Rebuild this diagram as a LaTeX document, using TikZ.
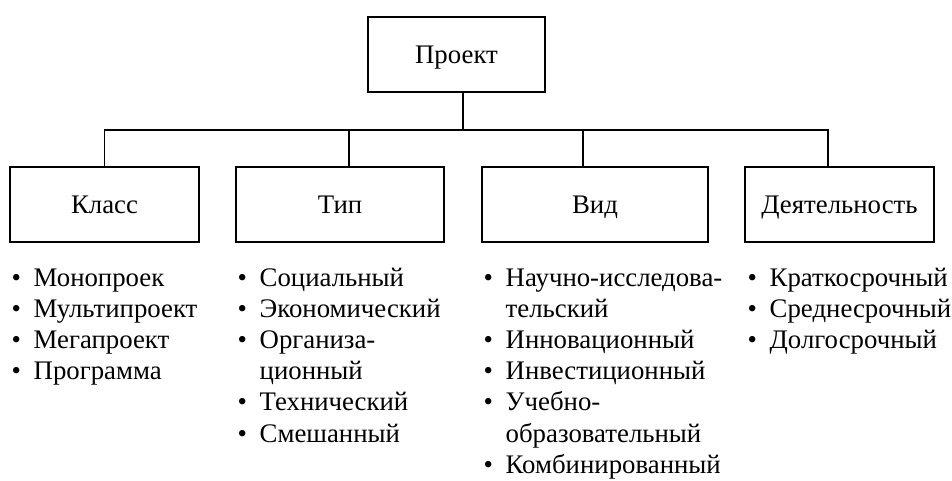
\documentclass[tikz,border=0pt]{standalone}
\usepackage{fontspec}
\setmainfont{Liberation Serif}
\usepackage{tikz}
\tikzset{
	box/.style={draw, line width=1.4pt, inner sep=0pt, minimum height=75pt, text height=19pt, text depth=2pt},
	itm/.style={anchor=base west, inner sep=0pt},
}
\def\bul{\makebox[22pt][l]{•}}
\def\cnt{\hspace*{22pt}}

\begin{document}
\begin{tikzpicture}[x=1pt, y=-1pt, font=\fontsize{26.8}{31}\selectfont, line width=1.4pt]
		%%%%% START %%%%%
		
		\useasboundingbox (0, 0) rectangle (952, 480);
		
		\node[box, minimum width=177pt] (proekt) at (456.5, 54.5) {Проект};
		
		\node[box, minimum width=189pt] (klass) at (104.5, 204.5) {Класс};
		\node[box, minimum width=208pt] (tip) at (340, 204.5) {Тип};
		\node[box, minimum width=226pt] (vid) at (595, 204.5) {Вид};
		\node[box, minimum width=189pt] (dejat) at (839.5, 204.5) {Деятельность};
		
		\coordinate (hub) at (463, 130);
		\draw ([xshift=6.5pt]proekt.south) -- (hub);
		\draw (klass.north) |- (hub) -| ([xshift=-11.5pt]dejat.north);
		\draw ([xshift=9pt]tip.north) -- ([xshift=9pt]tip.north |- hub);
		\draw ([xshift=-12pt]vid.north) -- ([xshift=-12pt]vid.north |- hub);
		
		\foreach \txt [count=\n from 0] in {\bul Монопроек, \bul Мультипроект, \bul Мегапроект, \bul Программа}
			\node[itm] (kl\n) at (11, {286+31.2*\n}) {\txt};
		
		\foreach \txt [count=\n from 0] in {\bul Социальный, \bul Экономический, \bul Организа-, \cnt ционный, \bul Технический, \bul Смешанный}
			\node[itm] (tp\n) at (237, {286+31.2*\n}) {\txt};
		
		\foreach \txt [count=\n from 0] in {\bul Научно-исследова-, \cnt тельский, \bul Инновационный, \bul Инвестиционный, \bul Учебно-, \cnt образовательный, \bul Комбинированный}
			\node[itm] (vd\n) at (483, {286+31.2*\n}) {\txt};
		
		\foreach \txt [count=\n from 0] in {\bul Краткосрочный, \bul Среднесрочный, \bul Долгосрочный}
			\node[itm] (dj\n) at (747, {286+31.2*\n}) {\txt};
		
		%%%%% END %%%%%
	\end{tikzpicture}
\end{document}
